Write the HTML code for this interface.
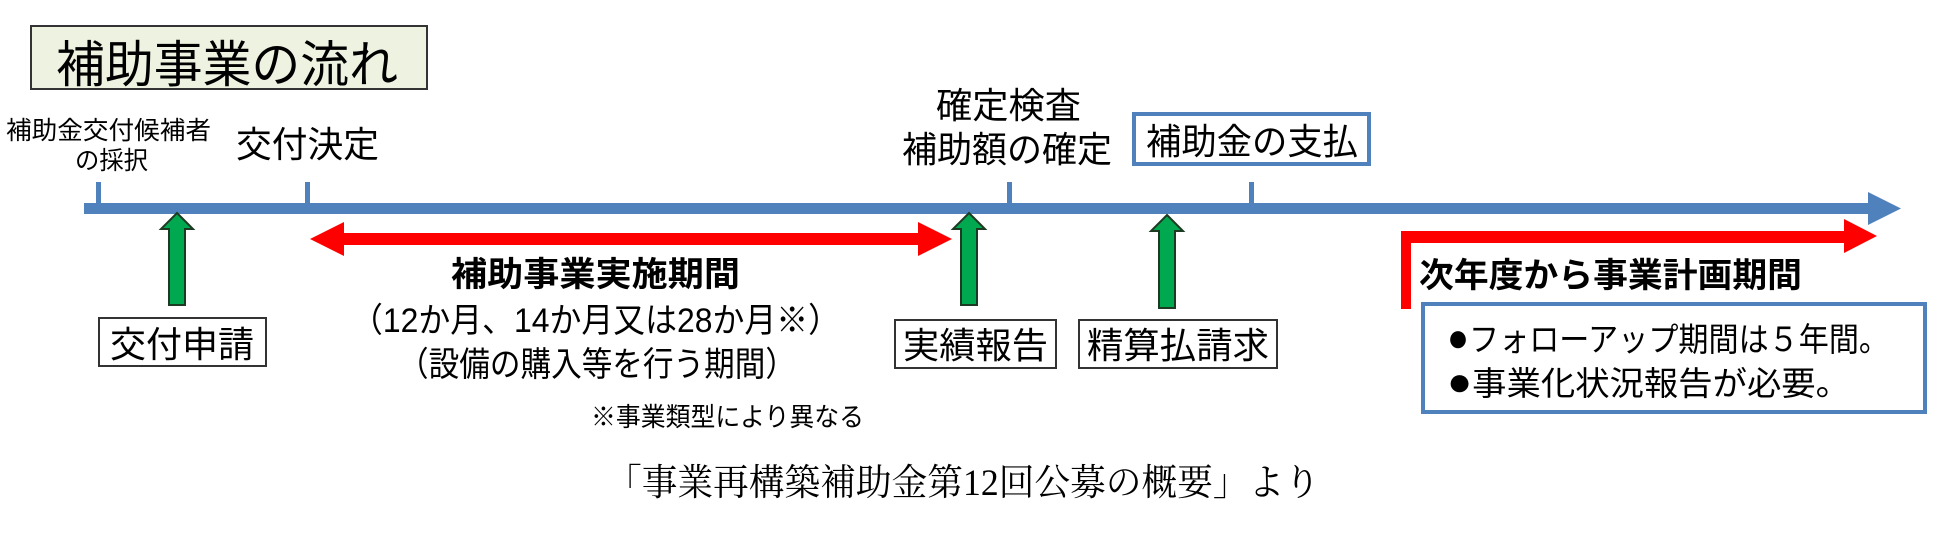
<!DOCTYPE html>
<html><head><meta charset="utf-8"><style>
html,body{margin:0;padding:0;background:#fff;width:1949px;height:553px;overflow:hidden}
svg text{font-family:"Liberation Sans","Noto Sans CJK JP",sans-serif;fill:#000}
</style></head><body>
<svg width="1949" height="553" viewBox="0 0 1949 553" xmlns="http://www.w3.org/2000/svg">
<rect x="31" y="26" width="396" height="63" fill="#eef3e1" stroke="#333" stroke-width="2"/>
<text x="56" y="82" font-size="50" textLength="342" lengthAdjust="spacingAndGlyphs">補助事業の流れ</text>
<text x="6" y="139" font-size="25" textLength="205" lengthAdjust="spacingAndGlyphs">補助金交付候補者</text>
<text x="75" y="169" font-size="25" textLength="73" lengthAdjust="spacingAndGlyphs">の採択</text>
<text x="236" y="157" font-size="36" textLength="143" lengthAdjust="spacingAndGlyphs">交付決定</text>
<text x="936" y="118" font-size="36" textLength="145" lengthAdjust="spacingAndGlyphs">確定検査</text>
<text x="902" y="162" font-size="36" textLength="210" lengthAdjust="spacingAndGlyphs">補助額の確定</text>
<rect x="1134" y="114" width="235" height="50" fill="#fff" stroke="#4f81bd" stroke-width="4"/>
<text x="1146" y="154" font-size="36" textLength="212" lengthAdjust="spacingAndGlyphs">補助金の支払</text>
<rect x="84" y="203" width="1790" height="11" fill="#4f81bd"/>
<polygon points="1868,192 1901,208.5 1868,225" fill="#4f81bd"/>
<rect x="96" y="182" width="5" height="24" fill="#4f81bd"/>
<rect x="305" y="182" width="5" height="24" fill="#4f81bd"/>
<rect x="1007" y="182" width="5" height="24" fill="#4f81bd"/>
<rect x="1249" y="182" width="5" height="24" fill="#4f81bd"/>
<g fill="#00a850" stroke="#1d3b22" stroke-width="2">
<polygon points="177,213 193,229 185,229 185,305 169,305 169,229 161,229"/>
<polygon points="969,213 985,229 977,229 977,305 961,305 961,229 953,229"/>
<polygon points="1167,215 1183,231 1175,231 1175,308 1159,308 1159,231 1151,231"/>
</g>
<polygon points="310,239 344,222 344,233 918,233 918,222 952,239 918,256 918,245 344,245 344,256" fill="#ff0000"/>
<polygon points="1401,309 1401,231 1844,231 1844,219 1877,236 1844,253 1844,243 1411,243 1411,309" fill="#ff0000"/>
<text x="451" y="286" font-size="34" font-weight="bold" textLength="289" lengthAdjust="spacingAndGlyphs">補助事業実施期間</text>
<text x="351" y="332" font-size="34" textLength="489" lengthAdjust="spacingAndGlyphs">（12か月、14か月又は28か月※）</text>
<text x="398" y="376" font-size="34" textLength="398" lengthAdjust="spacingAndGlyphs">（設備の購入等を行う期間）</text>
<text x="591" y="426" font-size="26" textLength="273" lengthAdjust="spacingAndGlyphs">※事業類型により異なる</text>
<text x="1419" y="287" font-size="34" font-weight="bold" textLength="383" lengthAdjust="spacingAndGlyphs">次年度から事業計画期間</text>
<rect x="99" y="318" width="167" height="48" fill="#fff" stroke="#333" stroke-width="2"/>
<text x="110" y="357" font-size="36" textLength="144" lengthAdjust="spacingAndGlyphs">交付申請</text>
<rect x="895" y="320" width="161" height="48" fill="#fff" stroke="#333" stroke-width="2"/>
<text x="903" y="358" font-size="36" textLength="145" lengthAdjust="spacingAndGlyphs">実績報告</text>
<rect x="1079" y="320" width="198" height="48" fill="#fff" stroke="#333" stroke-width="2"/>
<text x="1087" y="358" font-size="36" textLength="182" lengthAdjust="spacingAndGlyphs">精算払請求</text>
<rect x="1423" y="304" width="502" height="108" fill="#fff" stroke="#4f81bd" stroke-width="4"/>
<text x="1447" y="351" font-size="33" textLength="442" lengthAdjust="spacingAndGlyphs"><tspan font-size="40">●</tspan>フォローアップ期間は５年間。</text>
<text x="1447" y="395" font-size="33" textLength="403" lengthAdjust="spacingAndGlyphs"><tspan font-size="40">●</tspan>事業化状況報告が必要。</text>
<text x="606" y="495" font-size="37" textLength="714" lengthAdjust="spacingAndGlyphs" style="font-family:'Liberation Serif','Noto Serif CJK SC',serif">「事業再構築補助金第12回公募の概要」より</text>
</svg>
</body></html>
